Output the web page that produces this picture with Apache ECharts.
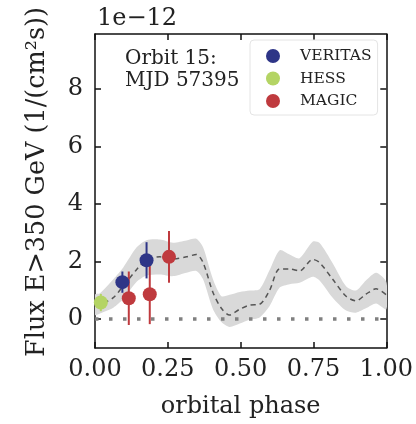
<!DOCTYPE html>
<html><head><meta charset="utf-8">
<script src="https://cdn.jsdelivr.net/npm/echarts@6/dist/echarts.min.js"></script>
<style>html,body{margin:0;padding:0;background:#fff}#c{width:416px;height:424px}</style>
</head><body><div id="c"></div>
<script>
const xTicks = [0, 0.25, 0.5, 0.75, 1.0];
const yTicks = [0, 2, 4, 6, 8];

const curvePhase = [0.0,0.017,0.063,0.097,0.143,0.177,0.223,0.268,0.314,0.348,0.371,0.405,0.434,0.462,0.497,0.531,0.565,0.599,0.634,0.668,0.702,0.748,0.771,0.816,0.862,0.896,0.930,0.965,1.0];
const curveFlux  = [0.48,0.52,0.75,1.16,1.73,2.08,2.17,2.10,2.17,2.25,1.97,0.93,0.38,0.15,0.35,0.49,0.52,1.00,1.75,1.75,1.68,2.08,1.97,1.39,0.80,0.64,0.87,1.06,0.85];
const bandLow    = [0.15,0.20,0.40,0.70,1.30,1.52,1.56,1.50,1.62,1.68,1.39,0.35,-0.10,-0.27,-0.15,-0.02,0.06,0.45,1.10,1.22,1.27,1.48,1.35,0.75,0.30,0.23,0.38,0.55,0.35];
const bandHigh   = [0.85,0.90,1.39,1.80,2.50,2.75,2.77,2.66,2.74,2.80,2.50,1.39,0.80,0.85,0.95,1.00,1.04,1.70,2.40,2.25,2.12,2.70,2.65,1.95,1.15,1.00,1.35,1.62,1.30];

const veritasPhase = [0.094, 0.177];
const veritasFlux  = [1.29, 2.05];
const veritasErr   = [0.37, 0.63];
const hessPhase = [0.020];
const hessFlux  = [0.58];
const hessErr   = [0.30];
const magicPhase = [0.116, 0.188, 0.254];
const magicFlux  = [0.73, 0.87, 2.17];
const magicErr   = [0.93, 1.04, 0.90];

const COLORS = {VERITAS:'#2e3587', HESS:'#b4d464', MAGIC:'#bf3a3e'};
const FONT = 'DejaVu Serif';
const FS = 24;

function pts(ph, fl){ return ph.map((p,i)=>[p, fl[i]]); }
function errData(ph, fl, er){ return ph.map((p,i)=>[p, fl[i]-er[i], fl[i]+er[i]]); }
function errSeries(name, ph, fl, er){
  const color = COLORS[name];
  return {
    type:'custom', name: name+'_err', clip:true, z:4, silent:true,
    data: errData(ph, fl, er),
    renderItem: function(params, api){
      const a = api.coord([api.value(0), api.value(1)]);
      const b = api.coord([api.value(0), api.value(2)]);
      return {type:'line', shape:{x1:a[0],y1:a[1],x2:b[0],y2:b[1]}, style:{stroke:color, lineWidth:2}};
    }
  };
}
function scatterSeries(name, ph, fl){
  return {type:'scatter', name:name, data:pts(ph, fl), symbolSize:14, z:5,
    itemStyle:{color:COLORS[name], opacity:1}};
}

const bandRows = curvePhase.map((p,i)=>[p, bandLow[i], bandHigh[i]]);
const bandSeries = {
  type:'custom', name:'band', clip:true, z:1, silent:true,
  data: bandRows,
  renderItem: function(params, api){
    if (params.dataIndex !== 0) return null;
    const top = bandRows.map(r=>api.coord([r[0], r[2]]));
    const bot = bandRows.slice().reverse().map(r=>api.coord([r[0], r[1]]));
    return {type:'polygon', shape:{points: top.concat(bot), smooth:0.25},
      style:{fill:'#d9d9d9', stroke:null}};
  }
};

const axisCommon = {
  axisLine:{show:true, onZero:false, lineStyle:{color:'#111', width:1.5}},
  splitLine:{show:false}
};
const tickStyle = {color:'#111', width:1.5};

const chart = echarts.init(document.getElementById('c'), null, {renderer:'canvas'});
chart.setOption({
  animation:false,
  backgroundColor:'#fff',
  grid:{left:95, right:29, top:34, bottom:75, containLabel:false},
  xAxis:[
    Object.assign({type:'value', min:0, max:1, interval:0.25, position:'bottom',
      name:'orbital phase', nameLocation:'middle', nameGap:47,
      nameTextStyle:{fontFamily:FONT, fontSize:FS, color:'#222'},
      axisTick:{show:true, inside:true, length:6, customValues:xTicks, lineStyle:tickStyle},
      axisLabel:{fontFamily:FONT, fontSize:FS, color:'#222', margin:10, customValues:xTicks,
        formatter:v=>v.toFixed(2)}}, axisCommon),
    Object.assign({type:'value', min:0, max:1, interval:0.25, position:'top',
      axisTick:{show:true, inside:true, length:6, customValues:xTicks, lineStyle:tickStyle},
      axisLabel:{show:false}}, axisCommon)
  ],
  yAxis:[
    Object.assign({type:'value', min:-1, max:9.92, position:'left',
      axisTick:{show:true, inside:true, length:6, customValues:yTicks, lineStyle:tickStyle},
      axisLabel:{fontFamily:FONT, fontSize:FS, color:'#222', margin:12, customValues:yTicks}}, axisCommon),
    Object.assign({type:'value', min:-1, max:9.92, position:'right',
      axisTick:{show:true, inside:true, length:6, customValues:yTicks, lineStyle:tickStyle},
      axisLabel:{show:false}}, axisCommon)
  ],
  legend:{
    data:['VERITAS','HESS','MAGIC'],
    orient:'vertical', left:250, top:40,
    padding:[8,6,6,16], itemGap:6.5, itemWidth:14, itemHeight:14, icon:'circle',
    backgroundColor:'#fff', borderColor:'#e4e4e4', borderWidth:1, borderRadius:4,
    textStyle:{fontFamily:FONT, fontSize:15.5, color:'#222', padding:[0,0,0,15]}
  },
  graphic:[
    {type:'text', left:97, top:7, style:{text:'1e\u221212', fontFamily:FONT, fontSize:FS, fill:'#222'}},
    {type:'text', left:125, top:48, style:{text:'Orbit 15:\nMJD 57395', fontFamily:FONT, fontSize:20, lineHeight:22, fill:'#222'}},
    {type:'text', x:37, y:182, rotation:Math.PI/2,
      style:{text:'Flux E>350 GeV (1/(cm²s))', fontFamily:FONT, fontSize:25.5, fill:'#222', align:'center', verticalAlign:'middle'}}
  ],
  series:[
    bandSeries,
    {type:'line', name:'zero', data:[], silent:true, z:2,
      markLine:{silent:true, symbol:'none', label:{show:false},
        lineStyle:{color:'#808080', width:3.5, type:[3.5,10.5], cap:'butt'},
        data:[{yAxis:0}]}},
    {type:'line', name:'model', data:pts(curvePhase, curveFlux), symbol:'none', smooth:0.3, z:3, silent:true,
      lineStyle:{color:'#555', width:1.5, type:[5,4]}},
    errSeries('VERITAS', veritasPhase, veritasFlux, veritasErr),
    errSeries('HESS', hessPhase, hessFlux, hessErr),
    errSeries('MAGIC', magicPhase, magicFlux, magicErr),
    scatterSeries('VERITAS', veritasPhase, veritasFlux),
    scatterSeries('HESS', hessPhase, hessFlux),
    scatterSeries('MAGIC', magicPhase, magicFlux)
  ]
});
</script></body></html>
